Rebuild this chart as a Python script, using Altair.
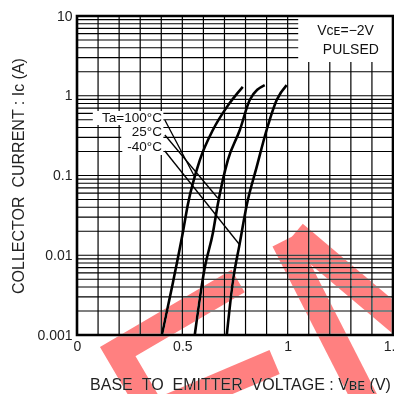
import altair as alt
import pandas as pd

# ---- data ----
vbe_100 = [0.403, 0.455, 0.502, 0.526, 0.583, 0.645, 0.711, 0.787]
ic_100 = [0.001, 0.0045, 0.019, 0.043, 0.156, 0.372, 0.72, 1.29]
vbe_25 = [0.559, 0.607, 0.645, 0.668, 0.716, 0.773, 0.820, 0.891]
ic_25 = [0.001, 0.0071, 0.019, 0.043, 0.156, 0.372, 0.885, 1.36]
vbe_m40 = [0.711, 0.739, 0.773, 0.806, 0.853, 0.900, 0.948, 0.995]
ic_m40 = [0.001, 0.0045, 0.0143, 0.043, 0.128, 0.372, 0.885, 1.36]

x_ticks = [0, 0.5, 1, 1.5]
y_ticks = [0.001, 0.01, 0.1, 1, 10]
x_grid = [0.1, 0.2, 0.3, 0.4, 0.5, 0.6, 0.7, 0.8, 0.9, 1.0, 1.1, 1.2, 1.3, 1.4]
y_grid = [0.002, 0.003, 0.004, 0.005, 0.006, 0.007, 0.008, 0.009,
          0.01, 0.02, 0.03, 0.04, 0.05, 0.06, 0.07, 0.08, 0.09,
          0.1, 0.2, 0.3, 0.4, 0.5, 0.6, 0.7, 0.8, 0.9,
          1, 2, 3, 4, 5, 6, 7, 8, 9]

# temperature labels and their leader lines
label_text = ["Ta=100°C", "25°C", "-40°C"]
label_x = [0.403, 0.403, 0.403]
label_y = [0.526, 0.351, 0.2275]
label_bg_x = [0.075, 0.21, 0.215]
label_bg_x2 = [0.41, 0.41, 0.41]
label_bg_y = [0.43, 0.287, 0.181]
label_bg_y2 = [0.644, 0.43, 0.287]
leader_x = [0.417, 0.559, 0.417, 0.668, 0.417, 0.773]
leader_y = [0.497, 0.0958, 0.322, 0.0522, 0.203, 0.01345]
leader_id = ["a", "a", "b", "b", "c", "c"]

# note box
note_lines = ["Vᴄᴇ=−2V", "PULSED"]
note_x = [1.275, 1.30]
note_y = [6.49, 3.75]
note_box = {"x": 1.05, "x2": 1.5, "y": 2.65, "y2": 10}

# red watermark strokes (data space)
wm_x = [0.765, 0.1934, 0.342, 0.938, 0.346, 0.983, 1.388, 1.032, 1.630]
wm_y = [0.00475, 0.000619, 0.0001325, 0.000458, 0.0000993, 0.01527, 0.0001216, 0.01858, 0.000869]
wm_id = ["s1", "s1", "s1", "s2", "s2", "s3", "s3", "s4", "s4"]
wm_ord = [0, 1, 2, 0, 1, 0, 1, 0, 1]

FONT = "Liberation Sans, Arial, sans-serif"
SP = " \u00a0"  # wide word gap as in the reference

curves = pd.concat([
    pd.DataFrame({"x": vbe_100, "y": ic_100, "t": "100"}),
    pd.DataFrame({"x": vbe_25, "y": ic_25, "t": "25"}),
    pd.DataFrame({"x": vbe_m40, "y": ic_m40, "t": "-40"}),
])

xs = alt.Scale(domain=[0, 1.5], nice=False, zero=False)
ys = alt.Scale(type="log", domain=[0.001, 10], nice=False)

x_axis = alt.Axis(values=x_ticks, grid=False, domain=False, ticks=False,
                  labelExpr="format(datum.value, '~g')", labelFont=FONT,
                  labelFontSize=14, labelColor="#222", labelPadding=4,
                  labelFlush=False, labelOverlap=False,
                  title="BASE" + SP + "TO" + SP + "EMITTER" + SP + "VOLTAGE : Vʙᴇ (V)", titleFont=FONT,
                  titleFontSize=16, titleFontWeight="normal", titleColor="#222",
                  titleX=163, titleY=49, titleAlign="center", titleBaseline="middle")
y_axis = alt.Axis(values=y_ticks, grid=False, domain=False, ticks=False,
                  labelExpr="format(datum.value, '~g')", labelFont=FONT,
                  labelFontSize=14, labelColor="#222", labelPadding=5,
                  labelOverlap=False, labelFlush=False,
                  title="COLLECTOR" + SP + "CURRENT : Ic (A)", titleFont=FONT,
                  titleFontSize=16, titleFontWeight="normal", titleColor="#222",
                  titleAngle=270, titleX=-59, titleY=159.5,
                  titleAlign="center", titleBaseline="middle")

X = lambda f: alt.X(f, type="quantitative", scale=xs, axis=x_axis)
Y = lambda f: alt.Y(f, type="quantitative", scale=ys, axis=y_axis)

vgrid = alt.Chart(pd.DataFrame({"x": x_grid})).mark_rule(color="black", strokeWidth=1.2).encode(x=X("x"))
hgrid = alt.Chart(pd.DataFrame({"y": y_grid})).mark_rule(color="black", strokeWidth=1.2).encode(y=Y("y"))

box = alt.Chart(pd.DataFrame([note_box])).mark_rect(color="white").encode(
    x=X("x"), x2="x2", y=Y("y"), y2="y2")

lbg = alt.Chart(pd.DataFrame({"x": label_bg_x, "x2": label_bg_x2, "y": label_bg_y, "y2": label_bg_y2})
                ).mark_rect(color="white").encode(x=X("x"), x2="x2", y=Y("y"), y2="y2")

lines = alt.Chart(curves).mark_line(
    color="black", strokeWidth=2.6, interpolate="monotone").encode(
    x=X("x"), y=Y("y"), detail="t:N", order="x:Q")

leaders = alt.Chart(pd.DataFrame({"x": leader_x, "y": leader_y, "id": leader_id})).mark_line(
    color="black", strokeWidth=1.3).encode(x=X("x"), y=Y("y"), detail="id:N")

labels = alt.Chart(pd.DataFrame({"x": label_x, "y": label_y, "t": label_text})).mark_text(
    align="right", baseline="middle", font=FONT, fontSize=13.5, color="#111").encode(
    x=X("x"), y=Y("y"), text="t:N")

notes = alt.Chart(pd.DataFrame({"x": note_x, "y": note_y, "t": note_lines})).mark_text(
    align="center", baseline="middle", font=FONT, fontSize=14, color="#111").encode(
    x=X("x"), y=Y("y"), text="t:N")

frame = alt.Chart(pd.DataFrame([{"x": 0, "x2": 1.5, "y": 0.001, "y2": 10}])).mark_rect(
    filled=False, stroke="black", strokeWidth=2.6).encode(x=X("x"), x2="x2", y=Y("y"), y2="y2")

wm = alt.Chart(pd.DataFrame({"x": wm_x, "y": wm_y, "id": wm_id, "o": wm_ord})).mark_line(
    color="#ff8080", strokeWidth=26, strokeCap="butt", strokeJoin="miter", clip=False,
    blend="darken").encode(x=X("x"), y=Y("y"), detail="id:N", order="o:Q")

chart = alt.layer(vgrid, hgrid, box, lbg, lines, leaders, labels, notes, frame, wm).properties(
    width=316, height=319,
    autosize=alt.AutoSizeParams(type="none"),
    padding={"left": 77, "top": 16, "right": 1, "bottom": 59},
).configure_view(stroke=None).configure(background="white")

chart.save("out.html", embed_options={"renderer": "svg", "actions": False})
